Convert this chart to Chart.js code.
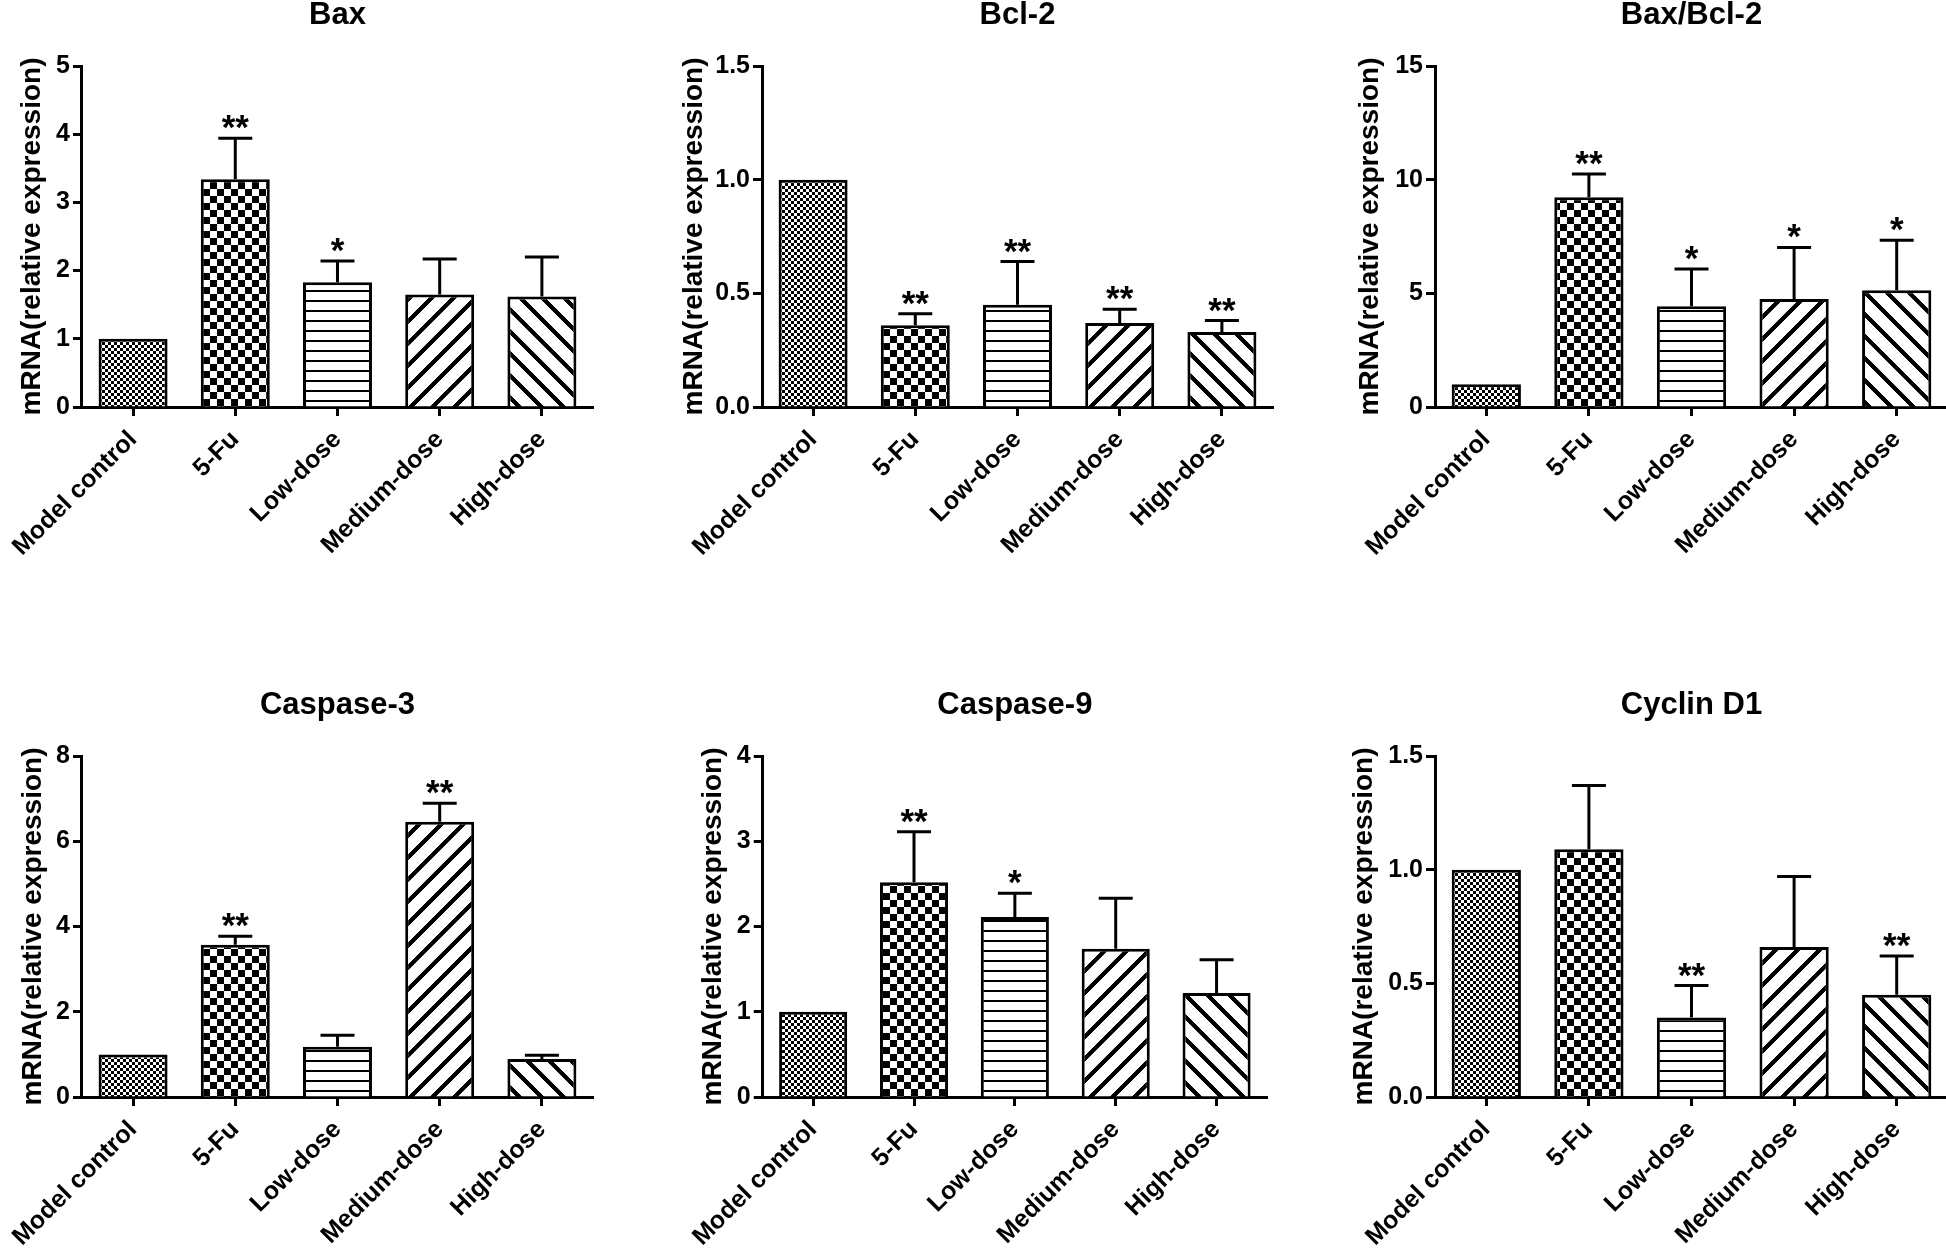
<!DOCTYPE html>
<html>
<head>
<meta charset="utf-8">
<script src="https://cdn.jsdelivr.net/npm/chart.js@4.4.1/dist/chart.umd.min.js"></script>
<style>
  html, body { margin: 0; padding: 0; background: #fff; width: 1946px; height: 1251px; overflow: hidden; }
  canvas { position: absolute; }
</style>
</head>
<body>
<canvas id="bax" width="600" height="580" style="left:0px;top:0px"></canvas>
<canvas id="bcl2" width="600" height="580" style="left:680px;top:0px"></canvas>
<canvas id="ratio" width="598" height="580" style="left:1350px;top:0px"></canvas>
<canvas id="casp3" width="600" height="580" style="left:0px;top:690px"></canvas>
<canvas id="casp9" width="600" height="580" style="left:680px;top:690px"></canvas>
<canvas id="ciclina" width="598" height="580" style="left:1350px;top:690px"></canvas>
<script>
const grupos = ['Model control', '5-Fu', 'Low-dose', 'Medium-dose', 'High-dose'];

const baxMedia = [1.00, 3.34, 1.83, 1.65, 1.62];
const baxSd    = [0, 0.60, 0.31, 0.52, 0.58];
const baxSig   = ['', '**', '*', '', ''];

const bcl2Media = [1.00, 0.36, 0.45, 0.37, 0.33];
const bcl2Sd    = [0, 0.05, 0.19, 0.06, 0.05];
const bcl2Sig   = ['', '**', '**', '**', '**'];

const ratioMedia = [1.00, 9.23, 4.43, 4.75, 5.14];
const ratioSd    = [0, 1.02, 1.64, 2.27, 2.20];
const ratioSig   = ['', '**', '*', '*', '*'];

const casp3Media = [1.00, 3.57, 1.18, 6.46, 0.89];
const casp3Sd    = [0, 0.20, 0.27, 0.43, 0.09];
const casp3Sig   = ['', '**', '', '**', ''];

const casp9Media = [1.00, 2.52, 2.11, 1.74, 1.22];
const casp9Sd    = [0, 0.59, 0.28, 0.59, 0.39];
const casp9Sig   = ['', '**', '*', '', ''];

const ciclinaMedia = [1.00, 1.09, 0.35, 0.66, 0.45];
const ciclinaSd    = [0, 0.28, 0.14, 0.31, 0.17];
const ciclinaSig   = ['', '', '**', '', '**'];

const fuente = '"Liberation Sans", Arial, Helvetica, sans-serif';
Chart.defaults.font.family = fuente;
Chart.defaults.color = '#000';

// tramas de las barras
function crearPatron(tipo) {
  const c = document.createElement('canvas');
  let s = 6;
  if (tipo === 'grueso') s = 14;
  if (tipo === 'lineas') s = 10;
  if (tipo === 'diag1' || tipo === 'diag2') s = 22;
  c.width = s; c.height = s;
  const g = c.getContext('2d');
  g.fillStyle = '#fff';
  g.fillRect(0, 0, s, s);
  g.fillStyle = '#000';
  if (tipo === 'fino') {
    g.fillRect(0, 0, 3, 3);
    g.fillRect(3, 3, 3, 3);
  } else if (tipo === 'grueso') {
    g.fillRect(0, 0, 7, 7);
    g.fillRect(7, 7, 7, 7);
  } else if (tipo === 'lineas') {
    g.fillRect(0, 0, s, 2);
  } else {
    // rayas diagonales pixel a pixel, sin costuras entre baldosas
    for (let x = 0; x < s; x++) {
      for (let y = 0; y < s; y++) {
        const k = tipo === 'diag1' ? (x + y) % s : ((x - y) % s + s) % s;
        if (k < 6) g.fillRect(x, y, 1, 1);
      }
    }
  }
  return g.createPattern(c, 'repeat');
}
const tramas = ['fino', 'grueso', 'lineas', 'diag1', 'diag2'].map(crearPatron);

// barras de error (solo hacia arriba) y asteriscos
const barrasError = {
  id: 'barrasError',
  afterDatasetsDraw(chart, args, opts) {
    const ctx = chart.ctx;
    const y = chart.scales.y;
    const meta = chart.getDatasetMeta(0);
    ctx.save();
    ctx.strokeStyle = '#000';
    ctx.fillStyle = '#000';
    ctx.lineWidth = 3;
    ctx.font = 'bold 35px ' + fuente;
    ctx.textAlign = 'center';
    ctx.textBaseline = 'alphabetic';
    meta.data.forEach((bar, i) => {
      const arriba = y.getPixelForValue(opts.medias[i] + opts.sd[i]);
      if (opts.sd[i] > 0) {
        ctx.beginPath();
        ctx.moveTo(bar.x, bar.y);
        ctx.lineTo(bar.x, arriba);
        ctx.moveTo(bar.x - 17, arriba);
        ctx.lineTo(bar.x + 17, arriba);
        ctx.stroke();
      }
      if (opts.sig[i]) ctx.fillText(opts.sig[i], bar.x, arriba + 1);
    });
    ctx.restore();
  }
};

function dibujarPanel(id, titulo, medias, sd, sig, maxY, paso, decimales, anchoY, padDer, padTituloY) {
  new Chart(document.getElementById(id), {
    type: 'bar',
    data: {
      labels: grupos,
      datasets: [{
        data: medias,
        backgroundColor: tramas,
        borderColor: '#000',
        borderWidth: 3,
        categoryPercentage: 1,
        barPercentage: 0.675
      }]
    },
    plugins: [barrasError],
    options: {
      responsive: false,
      animation: false,
      layout: { padding: { left: 0, right: padDer, top: 0, bottom: 0 } },
      plugins: {
        legend: { display: false },
        tooltip: { enabled: false },
        title: {
          display: true,
          text: titulo,
          fullSize: false,
          color: '#000',
          font: { size: 31, weight: 'bold', lineHeight: 1 },
          padding: { top: 0, bottom: 35 }
        },
        barrasError: { medias: medias, sd: sd, sig: sig }
      },
      scales: {
        x: {
          offset: true,
          border: { display: true, color: '#000', width: 3 },
          grid: { display: true, drawOnChartArea: false, drawTicks: true, tickLength: 9, tickWidth: 3, tickColor: '#000', offset: false },
          ticks: { autoSkip: false, minRotation: 45, maxRotation: 45, padding: 9, color: '#000', font: { size: 25, weight: 'bold' } },
          afterFit: (s) => { s.height = 173; }
        },
        y: {
          min: 0,
          max: maxY,
          border: { display: true, color: '#000', width: 3 },
          grid: { display: true, drawOnChartArea: false, drawTicks: true, tickLength: 9, tickWidth: 3, tickColor: '#000' },
          ticks: {
            stepSize: paso,
            padding: 3,
            color: '#000',
            font: { size: 25, weight: 'bold' },
            callback: (v) => v.toFixed(decimales)
          },
          title: {
            display: true,
            text: 'mRNA(relative expression)',
            color: '#000',
            font: { size: 28, weight: 'bold', lineHeight: 1 },
            padding: { top: padTituloY, bottom: 0 }
          },
          afterFit: (s) => { s.width = anchoY; }
        }
      }
    }
  });
}

dibujarPanel('bax', 'Bax', baxMedia, baxSd, baxSig, 5, 1, 0, 81, 7, 17);
dibujarPanel('bcl2', 'Bcl-2', bcl2Media, bcl2Sd, bcl2Sig, 1.5, 0.5, 1, 82, 7, 0);
dibujarPanel('ratio', 'Bax/Bcl-2', ratioMedia, ratioSd, ratioSig, 15, 5, 0, 85, 0, 6);
dibujarPanel('casp3', 'Caspase-3', casp3Media, casp3Sd, casp3Sig, 8, 2, 0, 81, 7, 18);
dibujarPanel('casp9', 'Caspase-9', casp9Media, casp9Sd, casp9Sig, 4, 1, 0, 76, 13, 13);
dibujarPanel('ciclina', 'Cyclin D1', ciclinaMedia, ciclinaSd, ciclinaSig, 1.5, 0.5, 1, 85, 0, 0);
</script>
</body>
</html>
